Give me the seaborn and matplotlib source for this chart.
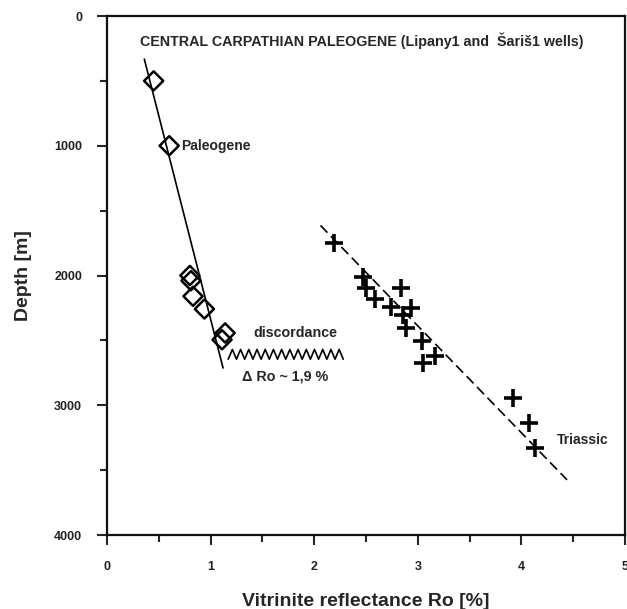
import numpy as np
import pandas as pd
import matplotlib
matplotlib.use("Agg")
import matplotlib.pyplot as plt
import seaborn as sns

# Paleogene samples (diamonds)
paleo_ro = [0.45, 0.60, 0.80, 0.81, 0.83, 0.94, 1.14, 1.11]
paleo_depth = [500, 1000, 2000, 2040, 2160, 2258, 2443, 2495]
# Paleogene trend line end points
paleo_line_ro = [0.36, 1.12]
paleo_line_depth = [332, 2713]

# Triassic samples (crosses)
trias_ro = [2.19, 2.47, 2.50, 2.59, 2.84, 2.74, 2.93, 2.86, 2.89, 3.04, 3.17, 3.05,
            3.92, 4.07, 4.13]
trias_depth = [1748, 2013, 2095, 2180, 2095, 2245, 2250, 2301, 2404, 2507, 2618, 2674,
               2945, 3138, 3331]
# Triassic trend line end points
trias_line_ro = [2.06, 4.44]
trias_line_depth = [1614, 3575]

# discordance zigzag: start/end Ro, peak/valley depth, number of teeth
zig_ro = (1.17, 2.28)
zig_depth = (2570, 2645)
zig_teeth = 14

x_ticks = [0, 1, 2, 3, 4, 5]
y_ticks = [0, 1000, 2000, 3000, 4000]

sns.set_theme(style="ticks")
plt.rcParams["font.family"] = ["Liberation Sans", "DejaVu Sans"]

fig = plt.figure(figsize=(6.27, 6.09), dpi=100)
ax = fig.add_axes([0.1707, 0.1215, 0.8262, 0.8522])

paleo = pd.DataFrame({"ro": paleo_ro, "depth": paleo_depth})
trias = pd.DataFrame({"ro": trias_ro, "depth": trias_depth})

sns.lineplot(x=paleo_line_ro, y=paleo_line_depth, ax=ax, color="black", lw=1.2,
             sort=False, estimator=None)
sns.lineplot(x=trias_line_ro, y=trias_line_depth, ax=ax, color="black", lw=1.2,
             sort=False, estimator=None)
ax.lines[-1].set_dashes((6, 3))

sns.scatterplot(data=paleo, x="ro", y="depth", ax=ax, marker="D", s=95,
                facecolor="none", edgecolor="black", linewidth=1.8, zorder=3)
sns.scatterplot(data=trias, x="ro", y="depth", ax=ax, marker="+", s=170,
                color="black", linewidth=2.6, zorder=3)

# zigzag marking the discordance
zx = np.linspace(zig_ro[0], zig_ro[1], 2 * zig_teeth + 1)
zy = np.where(np.arange(len(zx)) % 2 == 0, zig_depth[1], zig_depth[0])
ax.plot(zx, zy, color="black", lw=1.2)

ax.set_xlim(0, 5)
ax.set_ylim(4000, 0)
ax.set_xticks(x_ticks)
ax.set_yticks(y_ticks)
ax.set_xticks(np.arange(0.5, 5, 1), minor=True)
ax.set_yticks(np.arange(500, 4000, 1000), minor=True)
ax.tick_params(which="major", length=7, width=1.5, direction="out",
               labelsize=9, labelcolor="#222222")
ax.tick_params(which="minor", length=5, width=1.5, direction="out")
ax.tick_params(axis="x", pad=12)
ax.tick_params(axis="y", pad=11)
for lab in ax.get_xticklabels() + ax.get_yticklabels():
    lab.set_fontweight("bold")
for sp in ax.spines.values():
    sp.set_linewidth(1.6)
    sp.set_color("#111111")

ax.set_xlabel("Vitrinite reflectance Ro [%]", fontsize=14, fontweight="bold", labelpad=14)
ax.set_ylabel("Depth [m]", fontsize=14, fontweight="bold", labelpad=16)

ax.text(0.32, 193, "CENTRAL CARPATHIAN PALEOGENE (Lipany1 and  Šariš1 wells)",
        fontsize=10.3, fontweight="bold", ha="left", va="center")
ax.text(0.72, 1000, "Paleogene", fontsize=10, fontweight="bold", ha="left", va="center")
ax.text(1.41, 2440, "discordance", fontsize=10.3, fontweight="bold", ha="left", va="center")
ax.text(1.30, 2778, "Δ Ro ~ 1,9 %", fontsize=10.3, fontweight="bold", ha="left", va="center")
ax.text(4.34, 3266, "Triassic", fontsize=10, fontweight="bold", ha="left", va="center")

fig.savefig("out.png", dpi=100)
